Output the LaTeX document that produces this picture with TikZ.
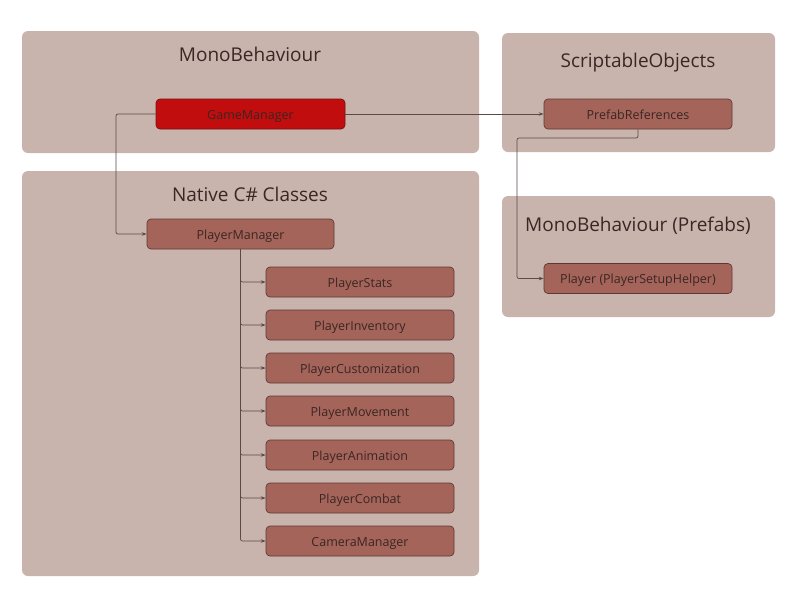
\documentclass[tikz,border=0pt]{standalone}
\usepackage{fontspec}
\setmainfont{Open Sans}
\usetikzlibrary{arrows.meta,positioning}
\definecolor{grpfill}{HTML}{C9B4AD}
\definecolor{nodefill}{HTML}{A4645A}
\definecolor{nodeborder}{HTML}{5C3A33}
\definecolor{redfill}{HTML}{C10D0D}
\definecolor{redborder}{HTML}{7A1010}
\definecolor{txt}{HTML}{3A2623}
\definecolor{edge}{HTML}{5A4A46}
\tikzset{
  grp/.style={fill=grpfill, draw=none, rounded corners=6pt},
  grptitle/.style={text=txt, font=\fontsize{19}{21}\selectfont, anchor=base, inner sep=0pt},
  cls/.style={draw=nodeborder, fill=nodefill, rounded corners=4pt, line width=0.7pt,
    minimum width=188pt, minimum height=30pt, inner sep=0pt, text=txt,
    text height=11.5pt, text depth=1pt,
    font=\fontsize{12.5}{14}\selectfont},
  redcls/.style={cls, fill=redfill, draw=redborder},
  conn/.style={draw=edge, line width=0.7pt, -{Stealth[length=5pt,width=3.5pt]}},
}
\begin{document}
\begin{tikzpicture}[x=1pt,y=-1pt]
\useasboundingbox (0,0) rectangle (800,600);
\fill[white] (0,0) rectangle (800,600);
% groups
\path[grp] (22,31) rectangle (479,153);
\path[grp] (502,33) rectangle (775,152);
\path[grp] (22,171) rectangle (479,576);
\path[grp] (502,196) rectangle (775,317);
\node[grptitle] (t1) at (250,61.5) {MonoBehaviour};
\node[grptitle] (t2) at (638,67.5) {ScriptableObjects};
\node[grptitle] (t3) at (250,201.5) {Native C\# Classes};
\node[grptitle] (t4) at (638,231.5) {MonoBehaviour (Prefabs)};
% nodes
\node[redcls, minimum width=189pt] (gm) at (250.5,114) {GameManager};
\node[cls] (pr) at (638,114) {PrefabReferences};
\node[cls] (pl) at (638,278.5) {Player (PlayerSetupHelper)};
\node[cls, minimum width=187pt] (pm) at (240.5,234) {PlayerManager};
\node[cls] (c1) at (360,282) {PlayerStats};
\node[cls] (c2) at (360,325) {PlayerInventory};
\node[cls] (c3) at (360,368) {PlayerCustomization};
\node[cls] (c4) at (360,411) {PlayerMovement};
\node[cls] (c5) at (360,455) {PlayerAnimation};
\node[cls] (c6) at (360,498) {PlayerCombat};
\node[cls] (c7) at (360,541) {CameraManager};
% connectors
\draw[conn, rounded corners=2pt] (gm.west) -| (116,160) |- (pm.west);
\draw[conn] (gm.east) -- (pr.west);
\draw[conn, rounded corners=2pt] (pr.south) |- (517,138) |- (pl.west);
\foreach \c in {c1,c2,c3,c4,c5,c6,c7}{
  \draw[conn, rounded corners=2pt] (pm.south) |- (\c.west);
}
\end{tikzpicture}
\end{document}
